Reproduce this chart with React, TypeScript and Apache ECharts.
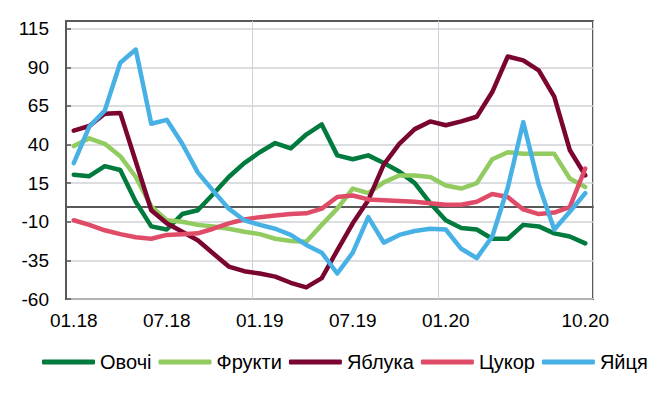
import React, { useEffect, useRef } from "react";
import * as echarts from "echarts";

const categories = [
  "01.18", "02.18", "03.18", "04.18", "05.18", "06.18", "07.18", "08.18", "09.18", "10.18", "11.18", "12.18",
  "01.19", "02.19", "03.19", "04.19", "05.19", "06.19", "07.19", "08.19", "09.19", "10.19", "11.19", "12.19",
  "01.20", "02.20", "03.20", "04.20", "05.20", "06.20", "07.20", "08.20", "09.20", "10.20",
];

const shownLabels = ["01.18", "07.18", "01.19", "07.19", "01.20", "10.20"];
const yTicks = [-60, -35, -10, 15, 40, 65, 90, 115];

const vegetables = [20.5, 19.5, 26, 23.5, 3, -13, -15, -5, -2.5, 8, 19, 28, 35, 41, 37.5, 46.5, 53, 33, 30.5, 33, 28, 22.5, 15, 2, -9, -14, -15, -21, -21, -12, -13, -17.5, -19.5, -24];
const fruits = [39, 44, 40.5, 32.5, 19, 0, -9, -10, -12, -13, -14.5, -16.5, -18, -21, -22.5, -23, -12, -1.5, 11.5, 8.5, 15.5, 20, 20, 19, 13.5, 11.5, 15, 30.5, 35, 34, 34, 34, 18, 12.5];
const apples = [49, 52, 60, 60.5, 29, -2.5, -11, -16.5, -22, -30.5, -39, -42, -43.5, -45.5, -49.5, -52.5, -46.5, -28.5, -11, 4, 27, 40.5, 50, 55, 52.5, 55, 58, 74, 97, 94.5, 88, 71, 36.5, 20];
const sugar = [-9, -12, -15.5, -18, -20, -21, -18.5, -18, -17.5, -14.5, -11, -8.5, -7, -6, -5, -4.5, -1.5, 6, 7, 4.5, 4, 3.5, 3, 2, 1, 1, 3, 8, 6, -2, -5, -4, -0.5, 24.5];
const eggs = [28, 51.5, 62, 93, 101.5, 53.5, 56, 40.5, 22, 10, -1.5, -9, -12, -14.5, -18.5, -25, -30, -43.5, -30, -7, -23.5, -18.5, -16, -14.5, -15, -27.5, -33.5, -19.5, 12, 54.5, 14, -15, -3.5, 8.5];

const seriesNames = ["Овочі", "Фрукти", "Яблука", "Цукор", "Яйця"];
const seriesData = [vegetables, fruits, apples, sugar, eggs];
const colors = ["#007A3D", "#92CB60", "#7A0530", "#E04C67", "#47B1E6"];

const FONT = "'Liberation Sans', Arial, sans-serif";
const DARK = "#595959";

export default function App() {
  const ref = useRef<HTMLDivElement>(null);
  useEffect(() => {
    if (!ref.current) return;
    const chart = echarts.init(ref.current, null, { renderer: "svg" });
    const series: any[] = seriesNames.map((name, i) => ({
      name,
      type: "line",
      data: seriesData[i],
      symbol: "none",
      lineStyle: { width: 4.5, color: colors[i], cap: "round", join: "round" },
      itemStyle: { color: colors[i] },
      z: 2 + i,
      ...(i === 0
        ? {
            markLine: {
              silent: true,
              symbol: "none",
              z: 1,
              label: { show: false },
              lineStyle: { color: DARK, width: 2, type: "solid" },
              data: [{ yAxis: 0 }],
            },
          }
        : {}),
    }));
    chart.setOption({
      animation: false,
      color: colors,
      grid: {
        left: 66,
        right: 59,
        top: 21,
        bottom: 104,
        show: true,
        borderColor: DARK,
        borderWidth: 2,
      },
      legend: {
        data: seriesNames,
        left: 42,
        top: 352,
        width: 610,
        padding: 0,
        itemGap: 7,
        itemWidth: 53,
        itemHeight: 5,
        icon: "roundRect",
        textStyle: { fontSize: 20, fontFamily: FONT, color: "#000" },
      },
      xAxis: {
        type: "category",
        data: categories,
        boundaryGap: true,
        axisLine: { show: true, lineStyle: { color: DARK, width: 2 } },
        axisTick: { show: false },
        axisLabel: {
          interval: (index: number, value: string) => shownLabels.includes(value),
          fontSize: 19,
          fontFamily: FONT,
          color: "#000",
          margin: 12,
        },
        splitLine: {
          show: true,
          interval: (index: number) => index === 12 || index === 24,
          lineStyle: { color: "#cfd2d6", width: 1 },
        },
      },
      yAxis: {
        type: "value",
        min: -60,
        max: 120,
        axisLine: { show: true, lineStyle: { color: DARK, width: 2 } },
        axisTick: {
          show: true,
          inside: true,
          length: 5,
          customValues: yTicks,
          lineStyle: { color: DARK, width: 1.5 },
        },
        axisLabel: {
          customValues: yTicks,
          fontSize: 19,
          fontFamily: FONT,
          color: "#000",
          margin: 17,
        },
        splitLine: { show: true, lineStyle: { color: "#cfd2d6", width: 1.5 } },
      },
      series,
    });
    return () => chart.dispose();
  }, []);
  return (
    <div
      ref={ref}
      style={{ position: "absolute", left: 0, top: 0, width: 652, height: 403, background: "#fff" }}
    />
  );
}
